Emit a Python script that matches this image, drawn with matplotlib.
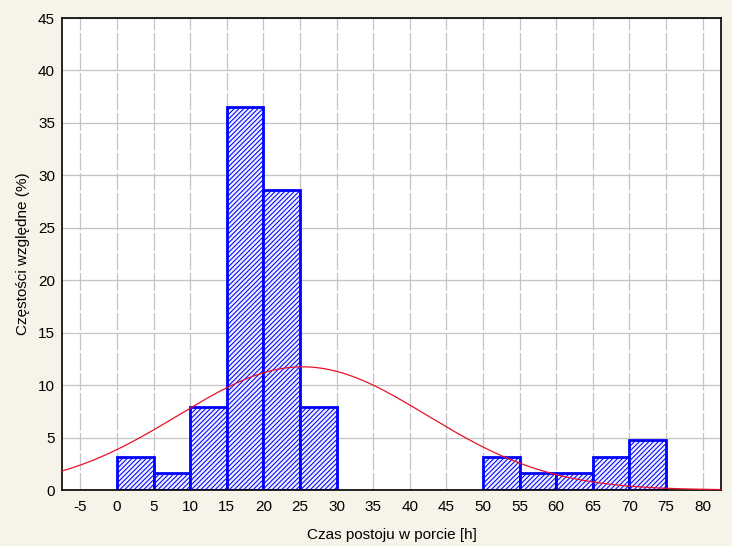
import numpy as np
import matplotlib
matplotlib.use("Agg")
import matplotlib.pyplot as plt

# Histogram data (relative frequencies, %)
bin_left = [0, 5, 10, 15, 20, 25, 50, 55, 60, 65, 70]
bin_width = 5
counts = [2, 1, 5, 23, 18, 5, 2, 1, 1, 2, 3]
total = sum(counts)
freq = [100.0 * c / total for c in counts]

x_ticks = list(range(-5, 85, 5))
y_ticks = list(range(0, 50, 5))

plt.rcParams['font.family'] = ['Liberation Sans', 'DejaVu Sans']
plt.rcParams['axes.unicode_minus'] = False
plt.rcParams['hatch.linewidth'] = 0.75
plt.rcParams['hatch.color'] = '#3344ff'

fig = plt.figure(figsize=(7.32, 5.46), dpi=100, facecolor='#f6f4e8')
ax = fig.add_axes([62 / 732, 1 - 490 / 546, (721 - 62) / 732, (490 - 18) / 546])
ax.set_facecolor('white')

ax.set_xlim(-7.5, 82.5)
ax.set_ylim(0, 45)
ax.set_xticks(x_ticks)
ax.set_yticks(y_ticks)

ax.grid(axis='y', color='#c4c4c4', linewidth=0.9, zorder=0)
ax.grid(axis='x', color='#c4c4c4', linewidth=0.9, linestyle=(0, (14, 2)), zorder=0)

ax.bar(bin_left, freq, width=bin_width, align='edge', facecolor='#eef0ff',
       edgecolor='#0000ff', linewidth=2, hatch='///////', zorder=2)

# fitted normal curve (from the grouped data)
mids = np.array(bin_left) + bin_width / 2
c = np.array(counts)
mu = np.sum(mids * c) / total
sd = np.sqrt(np.sum(c * (mids - mu) ** 2) / (total - 1))
xs = np.linspace(-7.5, 82.5, 400)
ys = 100 * bin_width * np.exp(-0.5 * ((xs - mu) / sd) ** 2) / (sd * np.sqrt(2 * np.pi))
ax.plot(xs, ys, color='#e8102a', linewidth=0.9, zorder=3)

for s in ax.spines.values():
    s.set_color('black')
    s.set_linewidth(1.2)
ax.tick_params(axis='both', length=0, labelsize=11, pad=7, colors='black')
ax.tick_params(axis='y', pad=5)

ax.set_xlabel('Czas postoju w porcie [h]', fontsize=11, labelpad=10)
ax.set_ylabel('Częstości względne (%)', fontsize=11, labelpad=6)

fig.savefig('out.png', dpi=100, facecolor=fig.get_facecolor())
